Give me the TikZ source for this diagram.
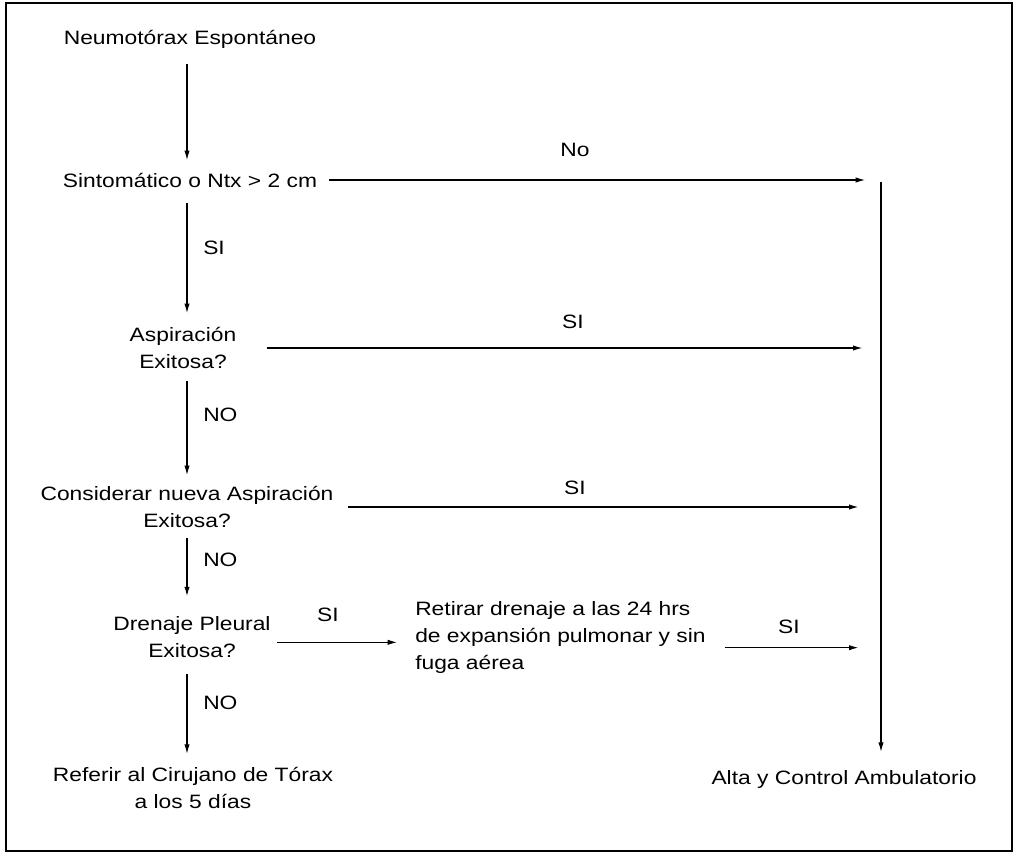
\documentclass[tikz,border=0pt]{standalone}
\usepackage{fontspec}
\setmainfont{Liberation Sans}[FakeStretch=1.18]
\usetikzlibrary{arrows.meta,calc}
\begin{document}
\begin{tikzpicture}[x=0.75pt,y=-0.75pt,
  txt/.style={font=\fontsize{14.5}{20.25}\selectfont, inner sep=0pt, align=center},
  lab/.style={font=\fontsize{14.5}{20.25}\selectfont, inner sep=0pt},
  arr/.style={-{Latex[length=7pt,width=4pt]}, line width=0.8pt}]
\useasboundingbox (0,0) rectangle (1015,854);
\draw[line width=1.5pt] (6,3) rectangle (1012,851);

% nodes
\node[txt] (n1) at (190,39) {Neumotórax Espontáneo};
\node[txt] (n2) at (190,180) {Sintomático o Ntx > 2 cm};
\node[txt] (n3) at (183,348) {Aspiración\\Exitosa?};
\node[txt] (n4) at (187,507) {Considerar nueva Aspiración\\Exitosa?};
\node[txt] (n5) at (192,637) {Drenaje Pleural\\Exitosa?};
\node[txt] (n6) at (193,788) {Referir al Cirujano de Tórax\\a los 5 días};
\node[txt, align=left, anchor=west] (n7) at (415,637) {Retirar drenaje a las 24 hrs\\de expansión pulmonar y sin\\fuga aérea};
\node[txt] (alta) at (844,779) {Alta y Control Ambulatorio};

\coordinate (axis) at (187,0);
\coordinate (tr) at (881,182);

% vertical arrows
\draw[arr, shorten <=12pt, shorten >=9.4pt] (n1.south -| axis) -- (n2.north -| axis);
\draw[arr, shorten <=12pt, shorten >=10.5pt] (n2.south -| axis) -- (n3.north -| axis);
\draw[arr, shorten <=9pt, shorten >=8.3pt] (n3.south -| axis) -- (n4.north -| axis);
\draw[arr, shorten <=7.5pt, shorten >=15pt] (n4.south -| axis) -- (n5.north -| axis);
\draw[arr, shorten <=12pt, shorten >=10pt] (n5.south -| axis) -- (n6.north -| axis);

% horizontal arrows
\draw[arr, shorten <=9pt, shorten >=12pt] (n2.east) -- (n2.east -| tr);
\draw[arr, shorten <=22.5pt, shorten >=14pt] (n3.east) -- (n3.east -| tr);
\draw[arr, shorten <=11pt, shorten >=17pt] (n4.east) -- (n4.east -| tr);
\draw[arr, shorten <=4.5pt, shorten >=13.5pt] ([yshift=-4pt]n5.east) -- ([yshift=-4pt]n5.east -| n7.west);
\draw[arr, shorten <=14pt, shorten >=17pt] ([yshift=-8pt]n7.east) -- ([yshift=-8pt]n7.east -| tr);

% trunk
\draw[arr, shorten >=13.5pt] (tr) -- (alta.north -| tr);

% labels
\node[lab] (lno) at (575,150) {No};
\node[lab] (ls1) at (573,322) {SI};
\node[lab] (ls2) at (575,488) {SI};
\node[lab] (ls3) at (328,615) {SI};
\node[lab] (ls4) at (789,627) {SI};
\node[lab, anchor=west] (ls0) at (203,248) {SI};
\node[lab, anchor=west] (ln1) at (203,415) {NO};
\node[lab, anchor=west] (ln2) at (203,560) {NO};
\node[lab, anchor=west] (ln3) at (203,703) {NO};
\end{tikzpicture}
\end{document}
